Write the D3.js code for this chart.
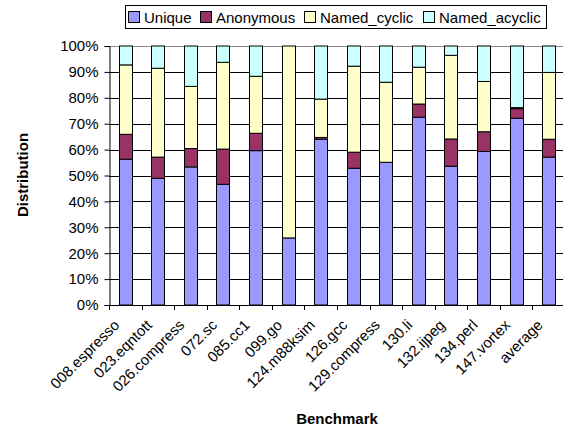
<!DOCTYPE html>
<html>
<head>
<meta charset="utf-8">
<script src="https://cdn.jsdelivr.net/npm/d3@7"></script>
<style>
  html, body { margin: 0; padding: 0; background: #fff; }
  svg { display: block; font-family: "Liberation Sans", Arial, sans-serif; }
</style>
</head>
<body>
<svg id="chart" width="563" height="428"></svg>
<script>
// Benchmarks on the x axis
const benchmarks = ["008.espresso", "023.eqntott", "026.compress", "072.sc", "085.cc1", "099.go",
  "124.m88ksim", "126.gcc", "129.compress", "130.li", "132.ijpeg", "134.perl", "147.vortex", "average"];

// Share of each category per benchmark (percent)
const unique      = [56.3, 48.9, 53.3, 46.6, 59.6, 25.9, 64.0, 52.8, 55.1, 72.5, 53.6, 59.3, 72.1, 57.1];
const anonymous   = [ 9.6,  8.2,  7.1, 13.6,  6.7,  0.0,  0.7,  6.2,  0.0,  5.1, 10.5,  7.6,  3.7,  6.9];
const namedCyclic = [26.8, 34.3, 24.0, 33.5, 22.0, 74.1, 14.8, 33.2, 30.9, 14.2, 32.3, 19.4,  0.4, 25.8];
const namedAcyclic= [ 7.3,  8.6, 15.6,  6.3, 11.7,  0.0, 20.5,  7.8, 14.0,  8.2,  3.6, 13.7, 23.8, 10.2];

const seriesNames  = ["Unique", "Anonymous", "Named_cyclic", "Named_acyclic"];
const seriesColors = ["#9999FF", "#993366", "#FFFFCC", "#CCFFFF"];
const yTicks = [0, 10, 20, 30, 40, 50, 60, 70, 80, 90, 100];

const rows = benchmarks.map((b, i) => ({
  name: b,
  Unique: unique[i],
  Anonymous: anonymous[i],
  Named_cyclic: namedCyclic[i],
  Named_acyclic: namedAcyclic[i]
}));

const svg = d3.select("#chart");
const plotLeft = 109, plotTop = 46, plotBottom = 305, plotRight = 565;

const x = d3.scaleBand().domain(benchmarks).range([plotLeft, plotRight]).paddingInner(0.6).paddingOuter(0.3);
const xTickScale = d3.scaleLinear().domain([0, benchmarks.length]).range([plotLeft, plotRight]);
const y = d3.scaleLinear().domain([0, 100]).range([plotBottom, plotTop]);

// horizontal gridlines
svg.append("g").selectAll("line").data(yTicks.filter(t => t > 0)).join("line")
  .attr("x1", plotLeft).attr("x2", plotRight)
  .attr("y1", d => Math.round(y(d)) + 0.5).attr("y2", d => Math.round(y(d)) + 0.5)
  .attr("stroke", d => d === 100 ? "#888" : "#000").attr("stroke-width", 1);

// stacked bars
const stack = d3.stack().keys(seriesNames)(rows);
svg.append("g").selectAll("g").data(stack).join("g")
  .attr("fill", (d, i) => seriesColors[i])
  .selectAll("rect").data(d => d.filter(s => s[1] - s[0] > 0.05)).join("rect")
  .attr("x", d => Math.round(x(d.data.name)) + 0.5)
  .attr("width", Math.round(x.bandwidth()))
  .attr("y", d => y(d[1]))
  .attr("height", d => y(d[0]) - y(d[1]))
  .attr("stroke", "#000").attr("stroke-width", 1);

// y axis
const yAxis = d3.axisLeft(y).tickValues(yTicks).tickFormat(d => d + "%").tickSize(5).tickPadding(6);
const gy = svg.append("g").attr("transform", `translate(${plotLeft + 0.5},0)`).call(yAxis);
gy.select(".domain").attr("stroke", "#000");
gy.selectAll(".tick line").attr("stroke", "#000");
gy.selectAll(".tick text").attr("font-size", 15).attr("fill", "#000")
  .attr("font-family", "Liberation Sans, Arial, sans-serif");

// x axis baseline and ticks at band boundaries
svg.append("line").attr("x1", plotLeft).attr("x2", plotRight)
  .attr("y1", plotBottom + 0.5).attr("y2", plotBottom + 0.5).attr("stroke", "#000");
svg.append("g").selectAll("line").data(d3.range(benchmarks.length + 1)).join("line")
  .attr("x1", d => Math.round(xTickScale(d)) + 0.5).attr("x2", d => Math.round(xTickScale(d)) + 0.5)
  .attr("y1", plotBottom).attr("y2", plotBottom + 5).attr("stroke", "#000");

// rotated category labels
svg.append("g").selectAll("text").data(benchmarks).join("text")
  .attr("transform", d => `translate(${x(d) + x.bandwidth() / 2 - 5},${plotBottom + 21}) rotate(-45)`)
  .attr("text-anchor", "end")
  .attr("font-size", 15)
  .attr("fill", "#000")
  .text(d => d);

// axis titles
svg.append("text")
  .attr("transform", `translate(28,175) rotate(-90)`)
  .attr("text-anchor", "middle").attr("font-size", 15).attr("font-weight", "bold")
  .text("Distribution");
svg.append("text")
  .attr("x", 337).attr("y", 424)
  .attr("text-anchor", "middle").attr("font-size", 15).attr("font-weight", "bold")
  .text("Benchmark");

// legend
const legend = svg.append("g");
legend.append("rect").attr("x", 125.5).attr("y", 5.5).attr("width", 421).attr("height", 23)
  .attr("fill", "#fff").attr("stroke", "#000");
const legendX = [128, 200, 304, 423];
seriesNames.forEach((name, i) => {
  legend.append("rect").attr("x", legendX[i] + 0.5).attr("y", 11.5).attr("width", 11).attr("height", 11)
    .attr("fill", seriesColors[i]).attr("stroke", "#000");
  legend.append("text").attr("x", legendX[i] + 16).attr("y", 22.5)
    .attr("font-size", 15).attr("fill", "#000").text(name);
});
</script>
</body>
</html>
